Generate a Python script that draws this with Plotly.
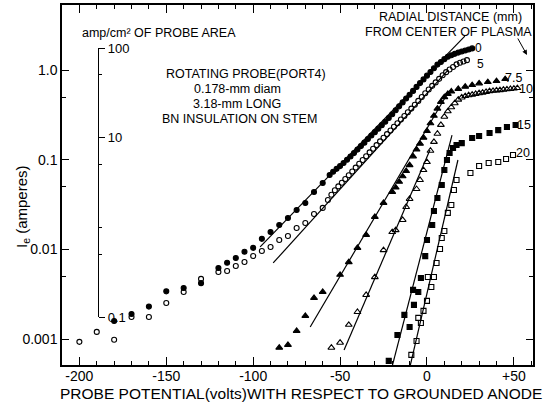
import plotly.graph_objects as go

# ---------------- data ----------------
# radial distance 0 mm (filled circles)
V_R0 = [-180, -170, -160, -150, -140, -130, -120, -115, -110, -105, -100, -95, -90, -85, -80, -75, -70, -65, -60, -56,
        -54, -52, -50, -48, -46, -44, -42, -40, -38, -36, -34, -32, -30, -28, -26, -24, -22, -20, -18, -16, -14,
        -12, -10, -8, -6, -4, -2, 0, 2, 4, 6, 8, 10, 12, 14, 16, 18, 20, 22, 24, 26]
I_R0 = [0.00159, 0.0019, 0.0023, 0.0034, 0.0037, 0.0042, 0.0062, 0.0071, 0.0080, 0.0094, 0.0104, 0.0131, 0.0156,
        0.0187, 0.0224, 0.0275, 0.0329, 0.0437, 0.0550, 0.0675,
        0.0735, 0.0791, 0.0849, 0.0920, 0.100, 0.1086, 0.1186, 0.1297, 0.1419, 0.155, 0.170, 0.186, 0.203, 0.222,
        0.243, 0.265, 0.292, 0.322, 0.356, 0.394, 0.436, 0.481, 0.531, 0.586, 0.649, 0.716, 0.787, 0.867, 0.953,
        1.047, 1.151, 1.233, 1.324, 1.409, 1.462, 1.517, 1.567, 1.611, 1.652, 1.698, 1.746]

# radial distance 5 mm (open circles)
V_R5 = [-200, -190, -180, -170, -160, -150, -140, -130, -120, -115, -110, -105, -100, -95, -90, -85, -80, -75, -70,
        -65, -60, -57,
        -55, -53, -51, -49, -47, -45, -43, -41, -39, -37, -35, -33, -31, -29, -27, -25, -23, -21, -19, -17, -15,
        -13, -11, -9, -7, -5, -3, -1, 1, 3, 5, 7, 9, 11, 13, 15, 17, 19, 21, 23]
I_R5 = [0.00093, 0.0012, 0.00098, 0.00176, 0.00176, 0.00252, 0.00335, 0.00468, 0.0056, 0.00574, 0.00653, 0.00724,
        0.00844, 0.0096, 0.01064, 0.0127, 0.0141, 0.0173, 0.0197, 0.0248, 0.029, 0.0356,
        0.0406, 0.0457, 0.0504, 0.0553, 0.0610, 0.0670, 0.0740, 0.0817, 0.0900, 0.0993, 0.1094, 0.1208, 0.1327,
        0.1455, 0.160, 0.176, 0.193, 0.212, 0.233, 0.255, 0.281, 0.308, 0.338, 0.372, 0.411, 0.453, 0.500, 0.552,
        0.608, 0.667, 0.729, 0.798, 0.875, 0.948, 1.014, 1.084, 1.159, 1.205, 1.247, 1.291]

# radial distance 7.5 mm (filled triangles)
V_R75 = [-85, -80, -75, -70, -65, -60, -50, -45, -40, -35, -30, -25, -20,
         -18, -16, -14, -12, -10, -8, -6, -4, -2, 0, 2, 4, 6, 8, 10, 12, 14,
         18, 22, 26, 30, 35, 40, 45]
I_R75 = [0.0008, 0.00086, 0.00123, 0.00181, 0.00287, 0.00335, 0.0052, 0.0072, 0.0104, 0.0145, 0.023, 0.033, 0.0437,
         0.049, 0.0568, 0.0653, 0.0748, 0.0871, 0.109, 0.130, 0.151, 0.176, 0.209, 0.255, 0.309, 0.372, 0.442,
         0.499, 0.543, 0.577,
         0.617, 0.653, 0.681, 0.711, 0.735, 0.754, 0.794]

# radial distance 10 mm (open triangles)
V_R10 = [-55, -50, -45, -40, -35, -30, -25, -20, -18, -14, -12, -10, -6, -4, -2, 0,
         2, 4, 6, 8, 10, 12, 14, 16, 18, 20, 22, 24, 26, 28, 30, 32, 34, 36, 38, 40, 42, 44, 46, 48, 50, 52]
I_R10 = [0.0008, 0.00091, 0.00144, 0.0020, 0.0031, 0.0049, 0.0098, 0.0156, 0.0164, 0.0213, 0.0297, 0.0365, 0.0471,
         0.0594, 0.0767, 0.0942,
         0.126, 0.158, 0.195, 0.245, 0.302, 0.347, 0.385, 0.427, 0.468, 0.495, 0.513, 0.524, 0.532, 0.542, 0.552,
         0.561, 0.571, 0.582, 0.587, 0.593, 0.598, 0.604, 0.610, 0.615, 0.622, 0.630]

# radial distance 15 mm (filled squares)
V_R15 = [-22, -17, -13, -10, -8, -7.5, -5, -3.5, -1, 0, 3, 4, 6, 8.5, 10, 11.5, 13, 15, 17, 20, 26, 30, 36, 41, 46, 51]
I_R15 = [0.00057, 0.00111, 0.00186, 0.00136, 0.00353, 0.0024, 0.00335, 0.0048, 0.0084, 0.0127, 0.0187, 0.0268,
         0.0374, 0.0522, 0.0767, 0.0993, 0.119, 0.135, 0.146, 0.153, 0.175, 0.184, 0.199, 0.214, 0.232, 0.244]

# radial distance 20 mm (open squares)
V_R20 = [-9, -6, -5, -3.5, -2, 0, 0.5, 2.5, 4, 5.5, 7.5, 8.5, 10, 12, 14, 15.5, 17, 25, 30, 35.5, 41, 45.5, 49.5]
I_R20 = [0.000665, 0.00095, 0.00172, 0.00151, 0.00206, 0.00266, 0.00492, 0.00381, 0.00492, 0.00705, 0.0101, 0.0134,
         0.016, 0.0255, 0.0313, 0.0459, 0.0594, 0.0711, 0.0851, 0.0919, 0.0942, 0.102, 0.113]

# straight-line fits drawn through each curve (start, end)
FIT_V = {"0": [-96.0, 21.8], "5": [-88.5, 12.1], "7.5": [-67.2, 10.3],
         "10": [-47.7, 1.7], "15": [-20.1, 14.4], "20": [-9.8, 17.8]}
FIT_I = {"0": [0.01064, 2.39], "5": [0.00705, 1.0], "7.5": [0.00136, 0.488],
         "10": [0.000755, 0.128], "15": [0.000489, 0.188], "20": [0.000489, 0.0993]}

SERIES_LABELS = ["0", "5", "7.5", "10", "15", "20"]

X_TICKS = [-200, -150, -100, -50, 0, 50]
X_TICK_TEXT = ["-200", "-150", "-100", "-50", "0", "+50"]
Y_TICKS = [0.001, 0.01, 0.1, 1.0]
Y_TICK_TEXT = ["0.001", "0.01", "0.1", "1.0"]
Y_MINOR = [0.005, 0.05, 0.5]
Y2_TICKS = [0.1, 10, 100]
Y2_TICK_TEXT = ["0.1", "10", "100"]
Y2_MINOR = [0.5, 1, 5, 50]

# ---------------- layout helpers ----------------
W, H = 553, 407
L, R, T, B = 62, 533, 5, 365


def px(x):
    return (x - L) / (R - L)


def py(y):
    return (B - y) / (B - T)


FONT = "Liberation Sans, Arial, sans-serif"

fig = go.Figure()

styles = {
    "0": dict(symbol="circle", size=5),
    "5": dict(symbol="circle-open", size=5),
    "7.5": dict(symbol="triangle-up", size=6),
    "10": dict(symbol="triangle-up-open", size=6),
    "15": dict(symbol="square", size=5),
    "20": dict(symbol="square-open", size=5),
}
data = {"0": (V_R0, I_R0), "5": (V_R5, I_R5), "7.5": (V_R75, I_R75),
        "10": (V_R10, I_R10), "15": (V_R15, I_R15), "20": (V_R20, I_R20)}

for lab in SERIES_LABELS:
    fig.add_trace(go.Scatter(x=FIT_V[lab], y=FIT_I[lab], mode="lines",
                             line=dict(color="black", width=1.2), showlegend=False, hoverinfo="skip"))

for lab in SERIES_LABELS:
    v, i = data[lab]
    st = styles[lab]
    fig.add_trace(go.Scatter(x=v, y=i, mode="markers", name=lab,
                             marker=dict(symbol=st["symbol"], size=st["size"], color="black",
                                         line=dict(color="black", width=1.1)),
                             showlegend=False))

# dummy trace to create the inner current-density axis
fig.add_trace(go.Scatter(x=[None], y=[None], yaxis="y2", showlegend=False, hoverinfo="skip"))

axis_common = dict(showline=True, linecolor="black", linewidth=1.5, showgrid=False, zeroline=False,
                   tickcolor="black", tickwidth=1.2, automargin=False)

fig.update_layout(
    width=W, height=H,
    margin=dict(l=L, r=W - R, t=T, b=H - B, autoexpand=False),
    paper_bgcolor="white", plot_bgcolor="rgba(0,0,0,0)",
    font=dict(family=FONT, size=13, color="black"),
    showlegend=False,
    xaxis=dict(range=[-210, 61], mirror="ticks", ticks="inside", ticklen=8,
               tickvals=X_TICKS, ticktext=X_TICK_TEXT, tickfont=dict(size=14), ticklabelstandoff=-3,
               minor=dict(dtick=10, tick0=0, ticks="inside", ticklen=4, tickcolor="black", tickwidth=1),
               **axis_common),
    yaxis=dict(type="log", range=[-3.29, 0.726], mirror="ticks", ticks="inside", ticklen=7,
               tickvals=Y_TICKS, ticktext=Y_TICK_TEXT, tickfont=dict(size=14),
               minor=dict(tickvals=Y_MINOR, ticks="inside", ticklen=4, tickcolor="black", tickwidth=1),
               **axis_common),
    yaxis2=dict(type="log", range=[-1, 2], domain=[py(317), py(48)], anchor="free", position=px(98),
                side="right", ticks="outside", ticklen=6, tickvals=Y2_TICKS, ticktext=Y2_TICK_TEXT,
                tickfont=dict(size=13),
                minor=dict(tickvals=Y2_MINOR, ticks="outside", ticklen=3, tickcolor="black", tickwidth=1),
                showline=True, linecolor="black", linewidth=1.3, showgrid=False, zeroline=False,
                tickcolor="black", tickwidth=1.2, automargin=False),
)


def text(x, y, s, size=13, xanchor="center", angle=0):
    fig.add_annotation(x=px(x), y=py(y), xref="paper", yref="paper", text=s, showarrow=False,
                       xanchor=xanchor, yanchor="middle", textangle=angle,
                       font=dict(family=FONT, size=size, color="black"))


# axis titles
text(301, 393, "PROBE POTENTIAL(volts)WITH RESPECT TO GROUNDED ANODE", size=15.5)
text(22, 207, "I<sub>e</sub> (amperes)", size=15, angle=-90)

# annotations inside the plot
text(159, 33, "amp/cm² OF PROBE AREA", size=12.5)
text(246, 74, "ROTATING PROBE(PORT4)", size=12.5)
text(237, 89, "0.178-mm diam", size=12.5)
text(237, 104, "3.18-mm LONG", size=12.5)
text(239, 119, "BN INSULATION ON STEM", size=12.5)
text(450, 17, "RADIAL DISTANCE (mm)", size=12.5)
text(448, 32, "FROM CENTER OF PLASMA", size=12.5)

# curve labels
text(478, 48, "0", size=12)
text(480, 64, "5", size=12)
text(513, 78, "7.5", size=12.5)
text(526, 89, "10", size=12.5)
text(524, 125, "15", size=12.5)
text(523, 153, "20", size=12.5)

# little arrow after "PLASMA"
fig.add_annotation(x=px(527), y=py(55), xref="paper", yref="paper", ax=-10, ay=-18,
                   showarrow=True, arrowhead=2, arrowsize=1, arrowwidth=1, arrowcolor="black", text="")

fig.write_html("out.html", config={"displayModeBar": False},
               post_script="document.body.style.margin='0';document.body.style.padding='0';")
